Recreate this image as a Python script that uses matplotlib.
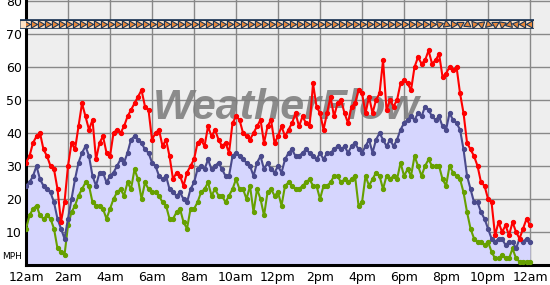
import matplotlib.pyplot as plt
import matplotlib.patheffects as pe
import numpy as np

# samples every 10 minutes, 12am -> 12am
hours = np.arange(145) / 6.0

gust = [31, 33, 37, 39, 40, 35, 33, 30, 29, 23, 13, 19, 30, 37, 35, 42, 49, 45, 41, 44,
        32, 37, 39, 34, 33, 40, 41, 40, 42, 45, 47, 49, 51, 53, 48, 47, 38, 40, 41, 36,
        38, 33, 26, 28, 27, 24, 28, 30, 32, 37, 38, 36, 42, 39, 41, 38, 36, 37, 34, 43,
        45, 44, 40, 39, 38, 40, 42, 44, 37, 42, 44, 37, 39, 42, 39, 41, 43, 46, 42, 45,
        43, 42, 55, 48, 46, 41, 46, 51, 45, 49, 50, 46, 43, 48, 49, 53, 52, 46, 51, 46,
        50, 52, 62, 47, 50, 48, 50, 55, 56, 55, 53, 60, 63, 61, 62, 65, 61, 62, 64, 57,
        58, 60, 59, 60, 52, 46, 37, 35, 33, 30, 25, 24, 20, 19, 9, 13, 10, 12, 9, 13,
        10, 8, 11, 14, 12]

avg = [24, 25, 27, 30, 26, 24, 23, 22, 19, 14, 11, 8, 14, 20, 26, 31, 34, 36, 33, 27,
       24, 28, 28, 25, 27, 28, 30, 32, 31, 34, 38, 39, 38, 37, 35, 34, 31, 30, 27, 26,
       27, 23, 22, 21, 22, 20, 19, 23, 25, 29, 30, 29, 32, 29, 30, 31, 29, 27, 27, 33,
       34, 33, 32, 31, 30, 27, 31, 33, 29, 31, 29, 28, 30, 28, 32, 34, 35, 33, 33, 34,
       35, 34, 33, 32, 34, 32, 34, 34, 35, 36, 35, 36, 34, 36, 37, 35, 34, 36, 38, 34,
       38, 40, 38, 36, 38, 36, 38, 41, 43, 44, 45, 44, 46, 45, 48, 47, 45, 44, 45, 42,
       41, 46, 44, 43, 41, 35, 27, 23, 19, 19, 16, 14, 11, 8, 7, 8, 8, 6, 7, 7,
       5, 8, 7, 8, 7]

lull = [11, 15, 17, 18, 15, 14, 15, 14, 11, 5, 4, 3, 12, 16, 18, 21, 23, 25, 24, 19,
        18, 18, 17, 14, 17, 20, 22, 23, 21, 25, 23, 29, 26, 20, 25, 23, 22, 22, 21, 19,
        18, 14, 14, 16, 17, 13, 11, 17, 17, 19, 22, 23, 25, 21, 23, 21, 21, 19, 21, 23,
        26, 23, 23, 20, 24, 16, 23, 20, 15, 22, 23, 21, 22, 18, 24, 25, 24, 23, 23, 24,
        25, 26, 24, 24, 20, 24, 24, 25, 27, 27, 25, 26, 25, 26, 27, 18, 19, 27, 24, 26,
        28, 27, 23, 27, 26, 27, 26, 31, 27, 29, 27, 33, 30, 27, 30, 32, 30, 30, 30, 26,
        24, 30, 28, 27, 26, 22, 16, 11, 8, 7, 7, 6, 7, 4, 2, 2, 3, 2, 2, 5,
        2, 1, 1, 1, 1]

# wind direction arrows every 20 minutes (0 = pointing right)
wind_dir = [0] * 58 + [0, 15, -20, 0, 30, -35, 10, 40, -15, 150, 20, -45, 170, 60, 180]

tick_hours = list(range(0, 25, 2))
tick_labels = ['12am', '2am', '4am', '6am', '8am', '10am', '12pm', '2pm', '4pm',
               '6pm', '8pm', '10pm', '12am']
y_ticks = [0, 10, 20, 30, 40, 50, 60, 70, 80]

fig = plt.figure(figsize=(5.5, 2.85), dpi=100)
ax = fig.add_axes([26 / 550, 20 / 285, 524 / 550, 265 / 285])
ax.set_facecolor('#eeeeee')
ax.set_axisbelow(True)
ax.grid(True, color='#888888', lw=1)

ax.fill_between(hours, avg, 0, color='#d6d6fe', lw=0, zorder=2)

ax.text(12.4, 47.5, 'WeatherFlow', family='Liberation Sans', weight='bold', style='italic',
        fontsize=31, color='#7a7a7a', alpha=0.85, ha='center', va='center', zorder=3)

ax.plot(hours, lull, color='#66a000', lw=1.5, marker='o', ms=2.8, zorder=4)
ax.plot(hours, avg, color='#4a4a8c', lw=1.5, marker='o', ms=2.8, zorder=5)
ax.plot(hours, gust, color='#ff0000', lw=1.5, marker='o', ms=2.8, zorder=6)

# wind row
wind_h = hours[::2]
ax.plot([-0.3, 24.2], [73, 73], color='#fde2c6', lw=5, solid_capstyle='butt', zorder=6,
        clip_on=False,
        path_effects=[pe.Stroke(linewidth=7, foreground='#1c3554'), pe.Normal()])
for h, d in zip(wind_h, wind_dir):
    ax.plot(h, 73, marker=(3, 0, d - 90), ms=6, mfc='#e8883a', mec='#1c3554', mew=0.8,
            zorder=7)

ax.set_xlim(0, 24.95)
ax.set_ylim(0, 80.3)
ax.set_xticks(tick_hours)
ax.set_xticklabels(tick_labels)
ax.set_yticks(y_ticks)
ax.set_yticklabels([''] + [str(v) for v in y_ticks[1:]])
ax.tick_params(length=0, labelsize=9, colors='black')
ax.tick_params(axis='x', pad=4)
ax.tick_params(axis='y', pad=3)
ax.text(-0.2, 2.5, 'MPH', fontsize=6.5, ha='right', va='center')

for s in ['top', 'right']:
    ax.spines[s].set_visible(False)
for s in ['left', 'bottom']:
    ax.spines[s].set_linewidth(2.2)
    ax.spines[s].set_color('black')

fig.savefig('out.png', dpi=100)
